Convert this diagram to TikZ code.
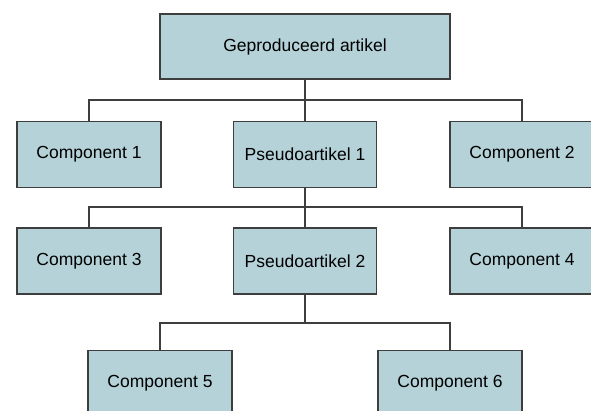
\documentclass[tikz,border=0pt]{standalone}
\usepackage{fontspec}
\setmainfont{Liberation Sans}
\definecolor{boxfill}{RGB}{180,210,216}
\definecolor{boxline}{RGB}{62,62,62}

\begin{document}
\begin{tikzpicture}[x=1pt,y=-1pt,
    box/.style={rectangle,draw=boxline,fill=boxfill,line width=1.6pt,
        minimum width=144pt,minimum height=66pt,inner sep=0pt,
        font=\fontsize{17.5}{20}\selectfont},
    tak/.style={draw=boxline,line width=1.6pt}]
    \useasboundingbox (0,0) rectangle (591,411);
    \clip (0,0) rectangle (591,411);

    \node[box,minimum width=290pt,minimum height=65pt] (top) at (305,46.5) {Geproduceerd artikel};

    \node[box] (c1) at (89,154.5) {Component 1};
    \node[box,minimum width=143pt] (p1) at (305,154.5) {Pseudoartikel 1};
    \node[box] (c2) at (522,154.5) {Component 2};

    \node[box] (c3) at (89,261) {Component 3};
    \node[box,minimum width=143pt] (p2) at (305,261) {Pseudoartikel 2};
    \node[box] (c4) at (522,261) {Component 4};

    \node[box] (c5) at (160,383.5) {Component 5};
    \node[box] (c6) at (450,383.5) {Component 6};

    \coordinate (j1) at (305,100);
    \coordinate (j2) at (305,207);
    \coordinate (j3) at (305,323);

    \draw[tak] (top.south) -- (j1) -- (p1.north);
    \draw[tak] (j1) -| (c1.north);
    \draw[tak] (j1) -| (c2.north);

    \draw[tak] (p1.south) -- (j2) -- (p2.north);
    \draw[tak] (j2) -| (c3.north);
    \draw[tak] (j2) -| (c4.north);

    \draw[tak] (p2.south) -- (j3);
    \draw[tak] (j3) -| (c5.north);
    \draw[tak] (j3) -| (c6.north);
\end{tikzpicture}
\end{document}
